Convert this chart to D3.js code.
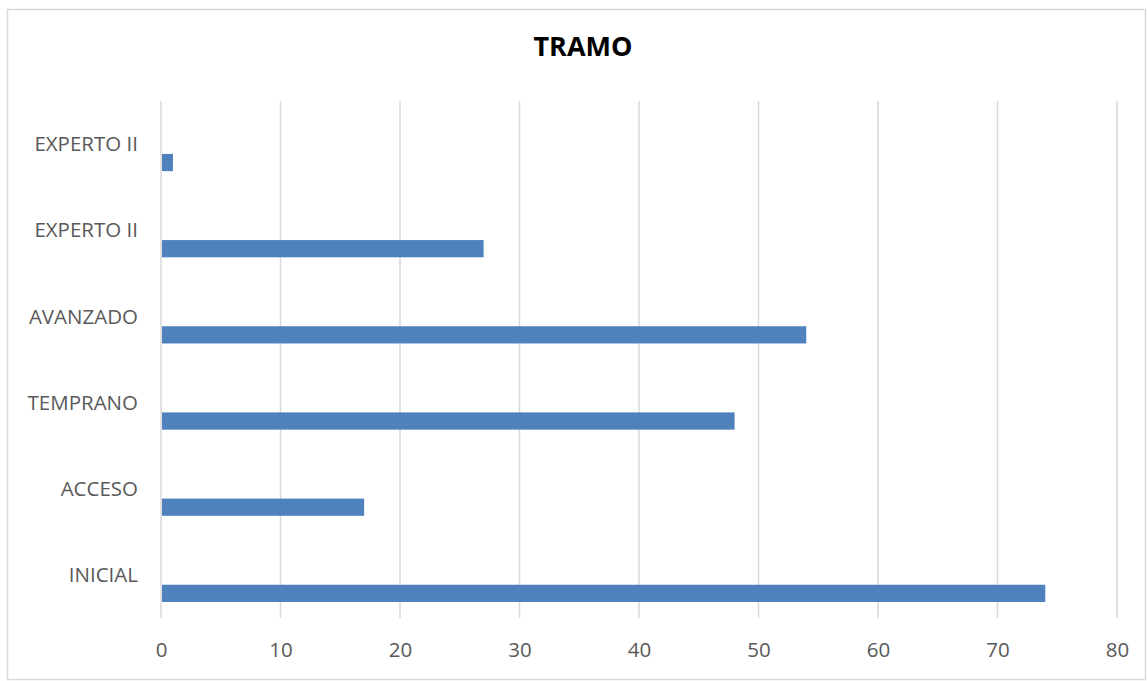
<!DOCTYPE html>
<html>
<head>
<meta charset="utf-8">
<script src="https://cdn.jsdelivr.net/npm/d3@7"></script>
<style>
  body { margin: 0; background: #fff; }
  text { font-family: "Open Sans", sans-serif; }
</style>
</head>
<body>
<svg id="chart" width="1147" height="681"></svg>
<script>
// data, bottom to top
let categories = ['INICIAL', 'ACCESO', 'TEMPRANO', 'AVANZADO', 'EXPERTO II', 'EXPERTO II '];
let values = [74, 17, 48, 54, 27, 1];
let xTicks = [0, 10, 20, 30, 40, 50, 60, 70, 80];
let chartTitle = 'TRAMO';

let svg = d3.select('#chart');

// outer frame
svg.append('rect')
  .attr('x', 7.5).attr('y', 9.5)
  .attr('width', 1138).attr('height', 670)
  .attr('fill', '#fff')
  .attr('stroke', '#d9d9d9')
  .attr('stroke-width', 1.5);

let margin = {top: 101, left: 161, right: 30, bottom: 63};
let width = 1117 - margin.left;
let height = 618 - margin.top;

let x = d3.scaleLinear()
  .domain([0, 80])
  .range([0, width]);

// first category at the bottom
let y = d3.scaleBand()
  .domain(categories.slice().reverse())
  .range([0, height]);

let g = svg.append('g')
  .attr('transform', 'translate(' + margin.left + ',' + margin.top + ')');

// vertical gridlines
g.selectAll('.grid')
  .data(xTicks)
  .enter().append('line')
  .attr('class', 'grid')
  .attr('x1', d => x(d)).attr('x2', d => x(d))
  .attr('y1', 0).attr('y2', height)
  .attr('stroke', '#d9d9d9')
  .attr('stroke-width', 1.5);

// bars sit in the lower part of each band
let barH = y.bandwidth() * 0.2;
let bottomGap = y.bandwidth() * 0.186;
g.selectAll('.bar')
  .data(categories.map((c, i) => ({cat: c, val: values[i]})))
  .enter().append('rect')
  .attr('class', 'bar')
  .attr('x', x(0) + 1)
  .attr('y', d => y(d.cat) + y.bandwidth() - bottomGap - barH)
  .attr('width', d => x(d.val) - x(0) - 1)
  .attr('height', barH)
  .attr('fill', '#4f81bd');

// category labels
g.selectAll('.catLabel')
  .data(categories)
  .enter().append('text')
  .attr('class', 'catLabel')
  .attr('x', -23)
  .attr('y', d => y(d) + y.bandwidth() / 2)
  .attr('dy', '0.35em')
  .attr('text-anchor', 'end')
  .attr('font-size', 20.5)
  .attr('fill', '#595959')
  .text(d => d.trim());

// x axis labels
let xAxis = d3.axisBottom(x)
  .tickValues(xTicks)
  .tickSize(0)
  .tickPadding(0);

let axisG = g.append('g')
  .attr('transform', 'translate(0,' + (height + 4) + ')')
  .call(xAxis);
axisG.select('.domain').remove();
axisG.selectAll('text')
  .attr('dy', '0.35em')
  .attr('y', 0)
  .attr('transform', 'translate(0,' + 28 + ')')
  .attr('font-family', '"Open Sans", sans-serif')
  .attr('font-size', 20.5)
  .attr('fill', '#595959');

svg.append('text')
  .attr('x', 583)
  .attr('y', 47)
  .attr('dy', '0.35em')
  .attr('text-anchor', 'middle')
  .attr('font-size', 27)
  .attr('font-weight', 'bold')
  .attr('fill', '#000')
  .text(chartTitle);
</script>
</body>
</html>
